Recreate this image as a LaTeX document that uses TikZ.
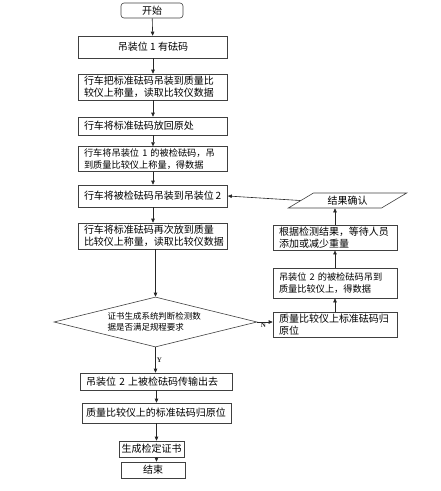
\documentclass[tikz,border=0pt]{standalone}
\usepackage{fontspec}
\setmainfont{Noto Sans CJK SC}
\newfontfamily\ynfont{Liberation Serif}
\usepackage{tikz}
\usetikzlibrary{shapes.geometric, arrows.meta}

\begin{document}
\begin{tikzpicture}[x=1pt, y=-1pt, line width=0.6pt,
    box/.style={draw=black!75, inner xsep=5.5pt, inner ysep=2pt, text width=138pt, align=left, font=\fontsize{10}{12}\selectfont},
    cbox/.style={draw=black!75, inner sep=2pt, align=center, font=\fontsize{10}{12}\selectfont},
    rbox/.style={draw=black!75, inner xsep=6pt, inner ysep=2pt, text width=112pt, align=left, font=\fontsize{10}{12}\selectfont},
    arr/.style={-{Triangle[length=4pt, width=3.5pt]}, black!85},
    yn/.style={font=\ynfont\bfseries\fontsize{7}{8}\selectfont, inner sep=1pt}]
    % draw frame
    \useasboundingbox (0, 0) rectangle (441, 491);

    % draw left column
    \node[cbox, rounded corners=3pt, minimum width=62pt, minimum height=15pt] (start) at (152, 10.5) {开始};
    \node[cbox, minimum width=149pt, minimum height=22pt] (b1) at (153, 47) {吊装位~1~有砝码};
    \node[box, minimum height=26pt] (b2) at (153, 87) {行车把标准砝码吊装到质量比\\较仪上称量，读取比较仪数据};
    \node[box, minimum height=18pt] (b3) at (153, 126) {行车将标准砝码放回原处};
    \node[box, minimum height=22pt, font=\fontsize{9.2}{12}\selectfont] (b4) at (153, 159) {行车将吊装位~1~的被检砝码，吊\\到质量比较仪上称量，得数据};
    \node[box, minimum height=22pt] (b5) at (153, 196) {行车将被检砝码吊装到吊装位\,2};
    \node[box, minimum height=26pt] (b6) at (153, 236) {行车将标准砝码再次放到质量\\比较仪上称量，读取比较仪数据};

    % draw decision
    \node[diamond, draw=black!75, aspect=4, inner sep=0pt, text width=96pt, align=left,
          minimum width=203pt, minimum height=50pt, font=\fontsize{8.5}{11}\selectfont] (dia) at (155.5, 322)
          {证书生成系统判断检测数\\据是否满足规程要求};

    % draw lower boxes
    \node[box, text width=141pt, minimum height=17pt] (b7) at (156.5, 381.5) {吊装位~2~上被检砝码传输出去};
    \node[box, text width=141pt, inner xsep=4pt, minimum height=20pt] (b8) at (156.5, 413) {质量比较仪上的标准砝码归原位};
    \node[cbox, minimum width=65pt, minimum height=16pt] (b9) at (151.5, 449) {生成检定证书};
    \node[cbox, minimum width=64pt, minimum height=16pt] (stop) at (153, 470) {结束};

    % draw right column
    \node[rbox, minimum height=25pt] (r1) at (335, 324.5) {质量比较仪上标准砝码归\\原位};
    \node[rbox, minimum height=30pt, font=\fontsize{9.2}{12}\selectfont] (r2) at (335, 283) {吊装位~2~的被检砝码吊到\\质量比较仪上，得数据};
    \node[rbox, minimum height=21pt] (r3) at (335, 237.5) {根据检测结果，等待人员\\添加或减少重量};
    \node[trapezium, draw=black!75, trapezium left angle=32, trapezium right angle=148, trapezium stretches=true,
          minimum width=119pt, minimum height=15pt, inner sep=0pt, font=\fontsize{10}{12}\selectfont] (res) at (347.5, 200.5) {结果确认};

    % draw arrows
    \draw[arr] (start) -- (b1);
    \draw[arr] (b1) -- (b2);
    \draw[arr] (b2) -- (b3);
    \draw[arr] (b3) -- (b4);
    \draw[arr] (b4) -- (b5);
    \draw[arr] (b5) -- (b6);
    \draw[arr] (dia.north |- b6.south) -- (dia.north);
    \draw[arr] (dia.south) -- node[yn, right, pos=0.5] (ylab) {Y} (dia.south |- b7.north);
    \draw[arr] (b7) -- (b8);
    \draw[arr] (b8.south) -- (b8.south |- b9.north);
    \draw[arr] (b9.south -| b8.south) -- (b8.south |- stop.north);
    \draw[arr] (dia.east) -- node[yn, below, pos=0.4] (nlab) {N} (dia.east -| r1.west);
    \draw[arr] (r1) -- (r2);
    \draw[arr] (r2) -- (r3);
    \draw[arr] (r3.north) -- (r3.north |- res.south);
    \draw[arr] (res.west) -- (b5.east);
\end{tikzpicture}
\end{document}
